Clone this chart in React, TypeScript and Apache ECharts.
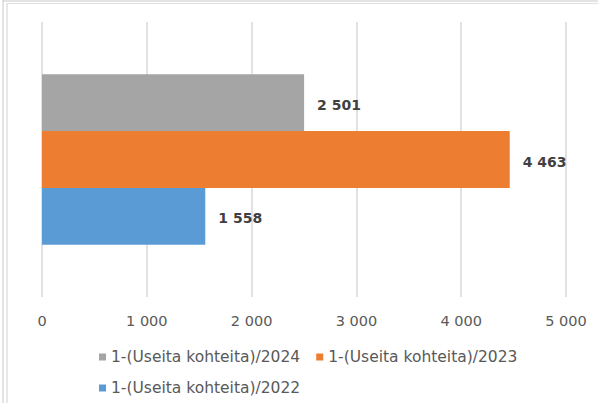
import React, { useEffect, useRef } from "react";
import * as echarts from "echarts";

const categories = ["1-(Useita kohteita)"];
const seriesNames = ["1-(Useita kohteita)/2024", "1-(Useita kohteita)/2023", "1-(Useita kohteita)/2022"];
const values2024 = [2501];
const values2023 = [4463];
const values2022 = [1558];
const colors = ["#a5a5a5", "#ed7d31", "#5b9bd5"];
const xTicks = [0, 1000, 2000, 3000, 4000, 5000];

const fmt = (v: number) => String(Math.round(v)).replace(/\B(?=(\d{3})+(?!\d))/g, " ");

export default function App() {
  const ref = useRef<HTMLDivElement>(null);
  useEffect(() => {
    if (!ref.current) return;
    const chart = echarts.init(ref.current, undefined, { renderer: "svg" });
    const dataSets = [values2024, values2023, values2022];
    const font = "'DejaVu Sans', sans-serif";
    chart.setOption({
      animation: false,
      backgroundColor: "#ffffff",
      textStyle: { fontFamily: font },
      grid: { left: 42, right: 32, top: 22, bottom: 106, containLabel: false },
      xAxis: {
        type: "value",
        min: xTicks[0],
        max: xTicks[xTicks.length - 1],
        interval: 1000,
        axisLine: { show: false },
        axisTick: { show: false },
        splitLine: { show: true, lineStyle: { color: "#d9d9d9", width: 1.5 } },
        axisLabel: { color: "#595959", fontSize: 14.5, fontFamily: font, margin: 16, formatter: (v: number) => fmt(v) },
      },
      yAxis: {
        type: "category",
        data: categories,
        inverse: true,
        axisLine: { show: false },
        axisTick: { show: false },
        axisLabel: { show: false },
      },
      legend: [
        {
          data: [seriesNames[0], seriesNames[1]],
          left: 94,
          top: 344,
          itemWidth: 7,
          itemHeight: 7,
          itemGap: 16,
          icon: "rect",
          textStyle: { color: "#595959", fontSize: 15.5, fontFamily: font },
        },
        {
          data: [seriesNames[2]],
          left: 94,
          top: 375,
          itemWidth: 7,
          itemHeight: 7,
          icon: "rect",
          textStyle: { color: "#595959", fontSize: 15.5, fontFamily: font },
        },
      ],
      series: seriesNames.map((name, i) => ({
        name,
        type: "bar",
        data: dataSets[i],
        barGap: "0%",
        barCategoryGap: "38%",
        itemStyle: { color: colors[i] },
        label: {
          show: true,
          position: "right",
          distance: 13,
          offset: [0, 2],
          color: "#404040",
          fontWeight: "bold",
          fontSize: 14,
          fontFamily: font,
          formatter: (p: any) => fmt(p.value),
        },
      })),
      graphic: [
        { type: "line", shape: { x1: 3, y1: 0, x2: 3, y2: 403 }, style: { stroke: "#c8c8c8", lineWidth: 1 } },
        { type: "line", shape: { x1: 7, y1: 3, x2: 7, y2: 403 }, style: { stroke: "#d0d0d0", lineWidth: 1 } },
        { type: "line", shape: { x1: 3, y1: 1, x2: 598, y2: 1 }, style: { stroke: "#c8c8c8", lineWidth: 1 } },
        { type: "line", shape: { x1: 7, y1: 3.5, x2: 598, y2: 3.5 }, style: { stroke: "#e0e0e0", lineWidth: 1 } },
      ],
    });
    return () => chart.dispose();
  }, []);
  return <div ref={ref} style={{ position: "fixed", left: 0, top: 0, width: 598, height: 403 }} />;
}
